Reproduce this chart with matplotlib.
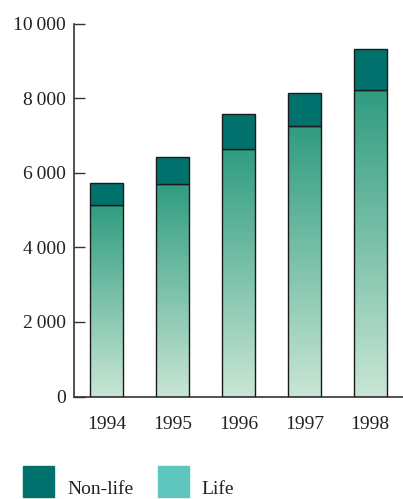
import numpy as np
import matplotlib.pyplot as plt
from matplotlib.colors import LinearSegmentedColormap
from matplotlib.patches import Rectangle

plt.rcParams['font.family'] = ['Liberation Serif', 'DejaVu Serif']

# data
years = ['1994', '1995', '1996', '1997', '1998']
life = [5150, 5710, 6640, 7270, 8240]
non_life = [570, 730, 940, 880, 1090]
y_ticks = [0, 2000, 4000, 6000, 8000, 10000]
y_tick_labels = ['0', '2\u2009000', '4\u2009000', '6\u2009000', '8\u2009000', '10\u2009000']

NONLIFE_COLOR = '#00716c'
LIFE_LEGEND = '#5cc5bc'
grad = LinearSegmentedColormap.from_list('life', ['#c8e6d4', '#2f9c80'])

fig = plt.figure(figsize=(4.03, 4.99), dpi=100)
ax = fig.add_axes([74 / 403, 1 - 396.5 / 499, 1 - 74 / 403, (396.5 - 24) / 499])

x = np.arange(len(years))
width = 0.5

# life bars with vertical gradient (light at bottom, dark at top)
g = np.linspace(0, 1, 256).reshape(-1, 1)
for xi, lv in zip(x, life):
    ax.imshow(g, cmap=grad, origin='lower', aspect='auto',
              extent=(xi - width / 2, xi + width / 2, 0, lv), zorder=2)
    ax.add_patch(Rectangle((xi - width / 2, 0), width, lv, fill=False,
                           edgecolor='#1a1a1a', linewidth=1.0, zorder=3))

ax.bar(x, non_life, width, bottom=life, color=NONLIFE_COLOR,
       edgecolor='#1a1a1a', linewidth=1.0, zorder=3)

ax.set_xlim(-0.5, 4.5)
ax.set_ylim(0, 10000)
ax.set_xticks(x)
ax.set_xticklabels(years, fontsize=14, color='#222222')
ax.set_yticks(y_ticks)
ax.set_yticklabels(y_tick_labels, fontsize=14, color='#222222')
ax.tick_params(axis='y', direction='in', length=8, width=1, pad=6, color='#333333')
ax.tick_params(axis='x', length=0, pad=14)
ax.spines['top'].set_visible(False)
ax.spines['right'].set_visible(False)
for s in ('left', 'bottom'):
    ax.spines[s].set_color('#333333')
    ax.spines[s].set_linewidth(1.2)

# legend drawn in figure coords
W, H = 403, 499
fig.patches.append(Rectangle((23 / W, 1 - 497 / H), 31 / W, 31 / H,
                             transform=fig.transFigure, color=NONLIFE_COLOR))
fig.patches.append(Rectangle((158 / W, 1 - 497 / H), 31 / W, 31 / H,
                             transform=fig.transFigure, color=LIFE_LEGEND))
fig.text(67 / W, 1 - 494 / H, 'Non-life', fontsize=14, color='#222222',
         va='baseline', ha='left')
fig.text(201 / W, 1 - 494 / H, 'Life', fontsize=14, color='#222222',
         va='baseline', ha='left')

fig.savefig('out.png', dpi=100)
